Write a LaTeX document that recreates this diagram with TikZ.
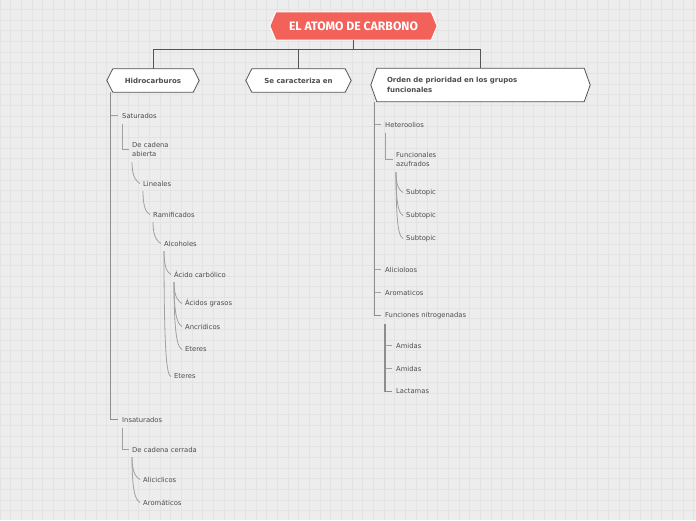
\documentclass[tikz,border=0pt]{standalone}
\usepackage{fontspec}
\setmainfont{DejaVu Sans}
\newfontfamily\rootfont{Fira Sans}
\usetikzlibrary{calc,backgrounds}
\definecolor{bg}{HTML}{EDEDED}
\definecolor{gridc}{HTML}{E3E3E3}
\definecolor{rootc}{HTML}{F2625A}
\definecolor{txt}{HTML}{4D4D4D}
\definecolor{edge}{HTML}{555555}
\definecolor{conn}{HTML}{A0A0A0}
\definecolor{trunkc}{HTML}{8E8E8E}
\tikzset{
  lbl/.style={anchor=west,inner sep=0pt,font=\fontsize{6.8}{9}\selectfont,text=txt,align=left},
  head/.style={inner sep=0pt,font=\bfseries\fontsize{7}{9.5}\selectfont,text=txt},
  rootbox/.style={inner sep=0pt,minimum width=167pt,minimum height=28pt,font=\rootfont\bfseries\fontsize{12.2}{14}\selectfont,text=white},
  hexline/.style={draw=edge,fill=white,line width=0.8pt},
  roothex/.style={draw=white,fill=rootc,line width=1pt},
  topline/.style={draw=edge,line width=1pt},
  trunk/.style={draw=trunkc,line width=1.2pt},
  thinc/.style={draw=conn,line width=0.8pt},
}
\newcommand\hexa[3]{%
  \path[#3] ([xshift=#2pt]#1.north west) -- (#1.west) -- ([xshift=#2pt]#1.south west)
    -- ([xshift=-#2pt]#1.south east) -- (#1.east) -- ([xshift=-#2pt]#1.north east) -- cycle;}
\newcommand\hook[3]{%
  \draw[thinc] ($(#1.west)+(0,#3)$) .. controls ($(#1.west |- #2.west)+(0,-5)$)
    and ($(#2.west)+(-6,-2)$) .. ($(#2.west)+(-3,0)$);}
\begin{document}
\begin{tikzpicture}[x=1pt,y=-1pt]
\useasboundingbox (0,0) rectangle (696,520);
\begin{scope}[on background layer]
  \fill[bg] (0,0) rectangle (696,520);
  \foreach \i in {0,...,65} \draw[gridc,line width=0.6pt] (\i*10.67,0) -- (\i*10.67,520);
  \foreach \j in {0,...,48} \draw[gridc,line width=0.6pt] (0,9.3+\j*10.67) -- (696,9.3+\j*10.67);
\end{scope}

% top level
\node[rootbox] (root) at (353.5,26) {EL ATOMO DE CARBONO};
\node[head,minimum width=92pt,minimum height=23pt] (hid) at (153,80.5) {Hidrocarburos};
\node[head,minimum width=105pt,minimum height=23pt] (sce) at (298.5,80.5) {Se caracteriza en};
\node[head,minimum height=33pt,text width=187pt,inner xsep=16pt,align=left] (ord) at (480.5,85)
  {Orden de prioridad en los grupos\\funcionales};

\begin{scope}[on background layer]
  \hexa{root}{6}{roothex}
  \hexa{hid}{6}{hexline}
  \hexa{sce}{6}{hexline}
  \hexa{ord}{6}{hexline}
\end{scope}

\draw[topline] (root.south) -- ++(0,9) -| (hid.north);
\draw[topline] (root.south) -- ++(0,9) -| (sce.north);
\draw[topline] (root.south) -- ++(0,9) -| (ord.north);

% left tree
\node[lbl] (sat) at (122,115.5) {Saturados};
\node[lbl] (ins) at (122,419.5) {Insaturados};
\node[lbl] (dca) at (132,149.5) {De cadena\\abierta};
\node[lbl] (lin) at (143,183.5) {Lineales};
\node[lbl] (ram) at (153,214.5) {Ramificados};
\node[lbl] (alc) at (164,243.5) {Alcoholes};
\node[lbl] (aci) at (174,274.5) {Ácido carbólico};
\node[lbl] (etea) at (174,376.5) {Eteres};
\node[lbl] (acg) at (185,303.5) {Ácidos grasos};
\node[lbl] (anc) at (185,326.5) {Ancridicos};
\node[lbl] (eteb) at (185,349.5) {Eteres};
\node[lbl] (dcc) at (132,449.5) {De cadena cerrada};
\node[lbl] (ali) at (143,479.5) {Aliciclicos};
\node[lbl] (aro) at (143,502.5) {Aromáticos};

\coordinate (lt) at ([xshift=4pt]hid.south west);
\draw[trunk] (lt) |- ([xshift=-4pt]ins.west);
\draw[thinc] (lt |- sat.west) -- ([xshift=-4pt]sat.west);
\draw[thinc] ($(sat.west)+(0,8)$) |- ([xshift=-3pt]dca.west);
\draw[thinc] ($(ins.west)+(0,8)$) |- ([xshift=-3pt]dcc.west);
\hook{dca}{lin}{12.5}
\hook{lin}{ram}{7.5}
\hook{ram}{alc}{7.5}
\hook{alc}{aci}{7.5}
\hook{alc}{etea}{7.5}
\hook{aci}{acg}{7.5}
\hook{aci}{anc}{7.5}
\hook{aci}{eteb}{7.5}
\hook{dcc}{ali}{7.5}
\hook{dcc}{aro}{7.5}

% right tree
\node[lbl] (het) at (385,124.5) {Heteroolios};
\node[lbl] (fun) at (396,159.5) {Funcionales\\azufrados};
\node[lbl] (sa) at (406,192.5) {Subtopic};
\node[lbl] (sb) at (406,215.5) {Subtopic};
\node[lbl] (sc) at (406,238.5) {Subtopic};
\node[lbl] (alic) at (385,269.5) {Alicioloos};
\node[lbl] (arom) at (385,292.5) {Aromaticos};
\node[lbl] (fnit) at (385,315.5) {Funciones nitrogenadas};
\node[lbl] (ama) at (396,345.5) {Amidas};
\node[lbl] (amb) at (396,368.5) {Amidas};
\node[lbl] (lac) at (396,391.5) {Lactamas};

\coordinate (rt) at ([xshift=4pt]ord.south west);
\draw[trunk] (rt) |- ([xshift=-4pt]fnit.west);
\draw[thinc] (rt |- het.west) -- ([xshift=-4pt]het.west);
\draw[thinc] (rt |- alic.west) -- ([xshift=-4pt]alic.west);
\draw[thinc] (rt |- arom.west) -- ([xshift=-4pt]arom.west);
\draw[thinc] ($(het.west)+(0,8)$) |- ([xshift=-3pt]fun.west);
\hook{fun}{sa}{12.5}
\hook{fun}{sb}{12.5}
\hook{fun}{sc}{12.5}
\draw[trunk] ($(fnit.west)+(0,8)$) |- ([xshift=-4pt]lac.west);
\draw[thinc] ($(fnit.west |- ama.west)$) -- ([xshift=-4pt]ama.west);
\draw[thinc] ($(fnit.west |- amb.west)$) -- ([xshift=-4pt]amb.west);
\end{tikzpicture}
\end{document}
